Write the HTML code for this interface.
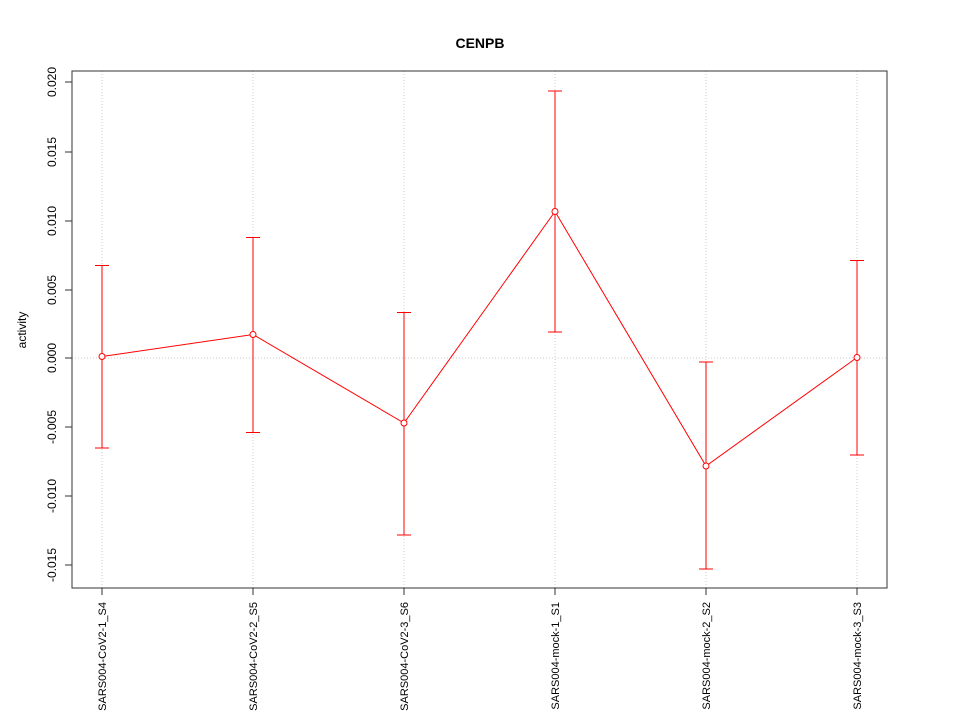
<!DOCTYPE html>
<html><head><style>body{margin:0;background:#fff}</style></head><body>
<svg width="960" height="720" xmlns="http://www.w3.org/2000/svg" font-family="Liberation Sans, sans-serif">
<rect width="960" height="720" fill="#fff"/>
<text x="480" y="48" text-anchor="middle" font-size="14" font-weight="bold">CENPB</text>
<g stroke="#ccc" stroke-dasharray="1,2" stroke-width="1">
<line x1="102" y1="71" x2="102" y2="588"/><line x1="253" y1="71" x2="253" y2="588"/>
<line x1="404" y1="71" x2="404" y2="588"/><line x1="555" y1="71" x2="555" y2="588"/>
<line x1="706" y1="71" x2="706" y2="588"/><line x1="857" y1="71" x2="857" y2="588"/>
<line x1="72" y1="358" x2="887" y2="358"/>
</g>
<rect x="72" y="71" width="815" height="517" fill="none" stroke="#333"/>
<g stroke="#333">
<line x1="72" y1="82" x2="72" y2="565"/>
<line x1="65" y1="82" x2="72" y2="82"/><line x1="65" y1="152" x2="72" y2="152"/>
<line x1="65" y1="221" x2="72" y2="221"/><line x1="65" y1="290" x2="72" y2="290"/>
<line x1="65" y1="358" x2="72" y2="358"/><line x1="65" y1="427" x2="72" y2="427"/>
<line x1="65" y1="496" x2="72" y2="496"/><line x1="65" y1="565" x2="72" y2="565"/>
<line x1="102" y1="588" x2="857" y2="588"/>
<line x1="102" y1="588" x2="102" y2="595"/><line x1="253" y1="588" x2="253" y2="595"/>
<line x1="404" y1="588" x2="404" y2="595"/><line x1="555" y1="588" x2="555" y2="595"/>
<line x1="706" y1="588" x2="706" y2="595"/><line x1="857" y1="588" x2="857" y2="595"/>
</g>
<g font-size="12" text-anchor="middle">
<text transform="translate(56,82) rotate(-90)">0.020</text>
<text transform="translate(56,152) rotate(-90)">0.015</text>
<text transform="translate(56,221) rotate(-90)">0.010</text>
<text transform="translate(56,290) rotate(-90)">0.005</text>
<text transform="translate(56,358) rotate(-90)">0.000</text>
<text transform="translate(56,427) rotate(-90)">-0.005</text>
<text transform="translate(56,496) rotate(-90)">-0.010</text>
<text transform="translate(56,565) rotate(-90)">-0.015</text>
<text transform="translate(26,330) rotate(-90)">activity</text>
</g>
<g font-size="11" text-anchor="end">
<text transform="translate(106,602) rotate(-90)">SARS004-CoV2-1_S4</text>
<text transform="translate(257,602) rotate(-90)">SARS004-CoV2-2_S5</text>
<text transform="translate(408,602) rotate(-90)">SARS004-CoV2-3_S6</text>
<text transform="translate(559,602) rotate(-90)">SARS004-mock-1_S1</text>
<text transform="translate(710,602) rotate(-90)">SARS004-mock-2_S2</text>
<text transform="translate(861,602) rotate(-90)">SARS004-mock-3_S3</text>
</g>
<g stroke="#f00" fill="none" stroke-width="1">
<line x1="102" y1="265.5" x2="102" y2="448"/><line x1="95" y1="265.5" x2="109" y2="265.5"/><line x1="95" y1="448" x2="109" y2="448"/>
<line x1="253" y1="237.5" x2="253" y2="432.5"/><line x1="246" y1="237.5" x2="260" y2="237.5"/><line x1="246" y1="432.5" x2="260" y2="432.5"/>
<line x1="404" y1="312.5" x2="404" y2="535"/><line x1="397" y1="312.5" x2="411" y2="312.5"/><line x1="397" y1="535" x2="411" y2="535"/>
<line x1="555" y1="91" x2="555" y2="332"/><line x1="548" y1="91" x2="562" y2="91"/><line x1="548" y1="332" x2="562" y2="332"/>
<line x1="706" y1="362" x2="706" y2="569"/><line x1="699" y1="362" x2="713" y2="362"/><line x1="699" y1="569" x2="713" y2="569"/>
<line x1="857" y1="260.5" x2="857" y2="455"/><line x1="850" y1="260.5" x2="864" y2="260.5"/><line x1="850" y1="455" x2="864" y2="455"/>
<polyline points="102,356.5 253,334.5 404,423 555,211.5 706,466 857,357.5"/>
<circle cx="102" cy="356.5" r="3" fill="#fff"/><circle cx="253" cy="334.5" r="3" fill="#fff"/>
<circle cx="404" cy="423" r="3" fill="#fff"/><circle cx="555" cy="211.5" r="3" fill="#fff"/>
<circle cx="706" cy="466" r="3" fill="#fff"/><circle cx="857" cy="357.5" r="3" fill="#fff"/>
</g>
</svg>
</body></html>
